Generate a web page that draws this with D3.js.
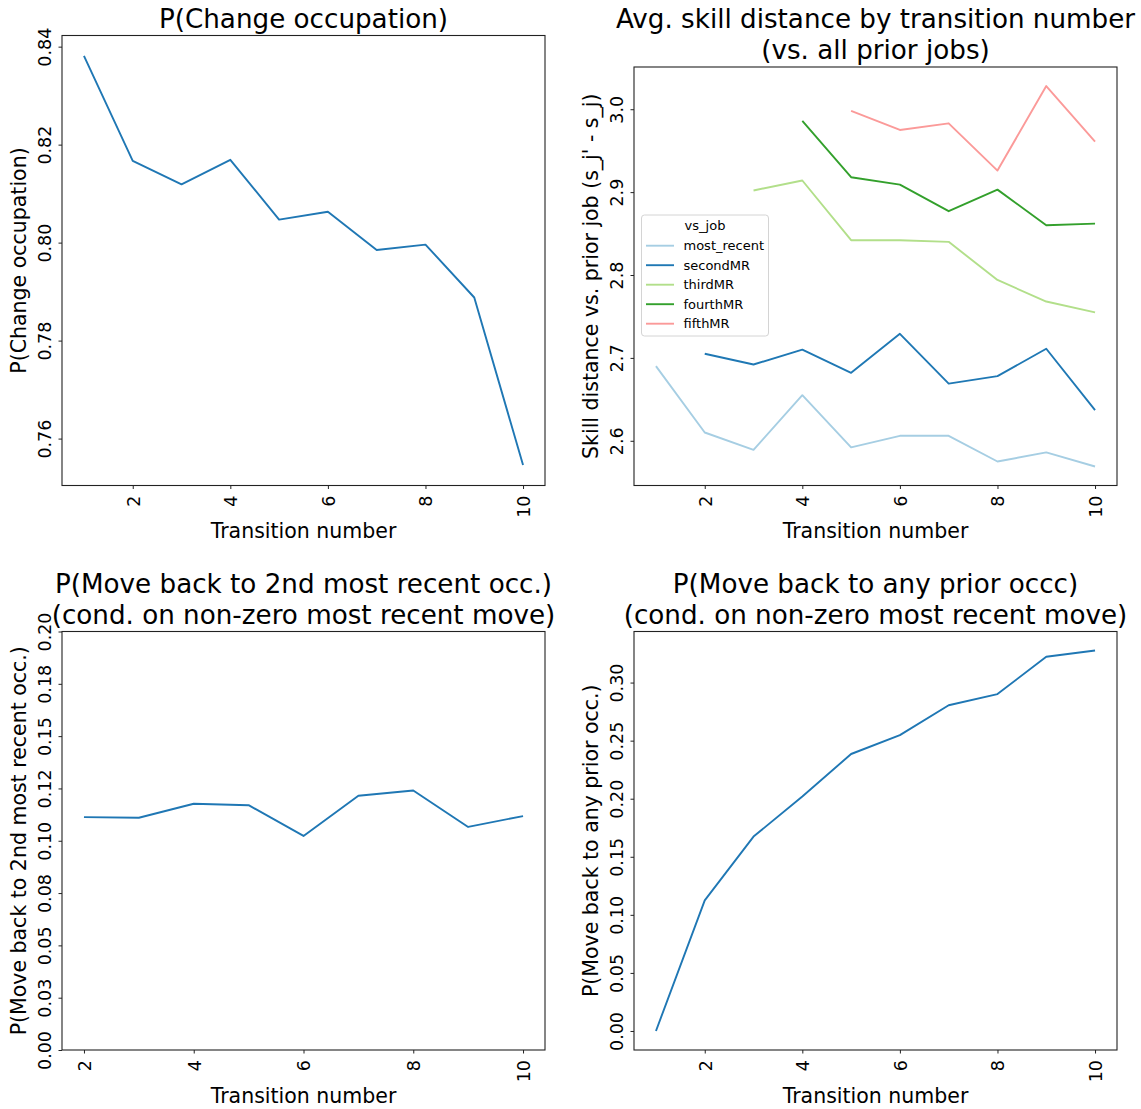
<!DOCTYPE html>
<meta charset="utf-8">
<style>
body { margin: 0; background: #fff; }
text { font-family: "DejaVu Sans", sans-serif; fill: #000; }
</style>
<body>
<script src="https://d3js.org/d3.v7.min.js"></script>
<script>

// data
var transitions = [1, 2, 3, 4, 5, 6, 7, 8, 9, 10];
var transitionsFrom2 = [2, 3, 4, 5, 6, 7, 8, 9, 10];
var xTicks = [2, 4, 6, 8, 10];

var pChange = [0.8381, 0.8167, 0.8119, 0.8169, 0.8047, 0.8063, 0.7985, 0.7996, 0.7888, 0.7546];

var vsJob = ["most_recent", "secondMR", "thirdMR", "fourthMR", "fifthMR"];
var vsJobColors = ["#a6cee3", "#1f78b4", "#b2df8a", "#33a02c", "#fb9a99"];
var mostRecent = [2.690, 2.610, 2.589, 2.655, 2.592, 2.606, 2.606, 2.575, 2.586, 2.569];
var secondMR   = [null, 2.705, 2.692, 2.710, 2.682, 2.729, 2.669, 2.678, 2.711, 2.637];
var thirdMR    = [null, null, 2.902, 2.914, 2.842, 2.842, 2.840, 2.794, 2.768, 2.755];
var fourthMR   = [null, null, null, 2.986, 2.918, 2.909, 2.877, 2.903, 2.860, 2.862];
var fifthMR    = [null, null, null, null, 2.998, 2.975, 2.983, 2.926, 3.028, 2.961];

var pBack2nd = [0.1113, 0.1110, 0.1177, 0.1170, 0.1023, 0.1215, 0.1240, 0.1066, 0.1118];
var pBackAny = [0.0000, 0.1125, 0.1674, 0.2019, 0.2385, 0.2547, 0.2805, 0.2901, 0.3222, 0.3276];

var ticks1 = [0.76, 0.78, 0.80, 0.82, 0.84];
var ticks2 = [2.6, 2.7, 2.8, 2.9, 3.0];
var ticks3 = [0, 0.025, 0.05, 0.075, 0.1, 0.125, 0.15, 0.175, 0.2];
var ticks3Labels = ["0.00", "0.03", "0.05", "0.08", "0.10", "0.12", "0.15", "0.18", "0.20"];
var ticks4 = [0, 0.05, 0.1, 0.15, 0.2, 0.25, 0.3];

var svg = d3.select("body").append("svg")
    .attr("width", 1141)
    .attr("height", 1109);

function pad(ext, f) {
  var r = ext[1] - ext[0];
  return [ext[0] - r * f, ext[1] + r * f];
}

// one subplot: frame, ticks, labels, title; returns the scales
function panel(c) {
  var x = d3.scaleLinear().domain(c.xDomain).range([c.left, c.right]);
  var y = d3.scaleLinear().domain(c.yDomain).range([c.bottom, c.top]);
  var g = svg.append("g");

  var xa = g.append("g")
      .attr("transform", "translate(0," + c.bottom + ")")
      .call(d3.axisBottom(x).tickValues(xTicks).tickSize(3.5).tickFormat(d3.format("d")));
  xa.select(".domain").remove();
  xa.selectAll("line").attr("stroke", "#222").attr("stroke-width", 1);
  xa.selectAll("text")
      .attr("transform", "rotate(-90)")
      .attr("text-anchor", "end")
      .attr("x", -10).attr("y", 0).attr("dy", "0.36em")
      .attr("font-size", "17.5px").attr("font-family", "DejaVu Sans").attr("fill", "#000");

  var ya = g.append("g")
      .attr("transform", "translate(" + c.left + ",0)")
      .call(d3.axisLeft(y).tickValues(c.yTicks).tickSize(3.5).tickFormat(c.yFormat));
  ya.select(".domain").remove();
  ya.selectAll("line").attr("stroke", "#222").attr("stroke-width", 1);
  ya.selectAll("text")
      .attr("transform", "rotate(-90)")
      .attr("text-anchor", "middle")
      .attr("x", 0).attr("y", -11).attr("dy", 0)
      .attr("font-size", "17.5px").attr("font-family", "DejaVu Sans").attr("fill", "#000");

  g.append("rect")
      .attr("x", c.left).attr("y", c.top)
      .attr("width", c.right - c.left).attr("height", c.bottom - c.top)
      .attr("fill", "none").attr("stroke", "#222").attr("stroke-width", 1.1);

  g.append("text")
      .attr("x", (c.left + c.right) / 2).attr("y", c.bottom + 52.8)
      .attr("text-anchor", "middle").attr("font-size", "20.5px")
      .text("Transition number");

  g.append("text")
      .attr("transform", "translate(" + (c.left - 36) + "," + ((c.top + c.bottom) / 2) + ") rotate(-90)")
      .attr("text-anchor", "middle").attr("font-size", "20.5px")
      .text(c.ylabel);

  var n = c.title.length;
  c.title.forEach(function(t, i) {
    g.append("text")
        .attr("x", (c.left + c.right) / 2)
        .attr("y", c.top - 8 - (n - 1 - i) * 30.8)
        .attr("text-anchor", "middle").attr("font-size", "26.2px")
        .text(t);
  });
  return {x: x, y: y, g: g};
}

function drawLine(p, xs, ys, color) {
  var pts = xs.map(function(d, i) { return [d, ys[i]]; });
  p.g.append("path")
      .datum(pts)
      .attr("fill", "none")
      .attr("stroke", color)
      .attr("stroke-width", 1.9)
      .attr("stroke-linejoin", "round")
      .attr("d", d3.line()
          .defined(function(d) { return d[1] != null; })
          .x(function(d) { return p.x(d[0]); })
          .y(function(d) { return p.y(d[1]); }));
}

var f2 = d3.format(".2f");

// top left
var p1 = panel({
  left: 62, right: 545, top: 35.5, bottom: 485.5,
  xDomain: [0.55, 10.45], yDomain: pad(d3.extent(pChange), 0.05),
  yTicks: ticks1, yFormat: f2,
  ylabel: "P(Change occupation)", title: ["P(Change occupation)"]
});
drawLine(p1, transitions, pChange, "#1f77b4");

// top right
var allSkill = mostRecent.concat(secondMR, thirdMR, fourthMR, fifthMR).filter(function(d) { return d != null; });
var p2 = panel({
  left: 634, right: 1117, top: 67, bottom: 485.5,
  xDomain: [0.55, 10.45], yDomain: pad(d3.extent(allSkill), 0.05),
  yTicks: ticks2, yFormat: d3.format(".1f"),
  ylabel: "Skill distance vs. prior job (s_j' - s_j)",
  title: ["Avg. skill distance by transition number", "(vs. all prior jobs)"]
});
[mostRecent, secondMR, thirdMR, fourthMR, fifthMR].forEach(function(s, i) {
  drawLine(p2, transitions, s, vsJobColors[i]);
});

// legend
var lg = p2.g.append("g").attr("transform", "translate(641.5,215)");
lg.append("rect")
    .attr("width", 127).attr("height", 121).attr("rx", 3)
    .attr("fill", "#fff").attr("fill-opacity", 0.8)
    .attr("stroke", "#d4d4d4").attr("stroke-width", 1);
lg.append("text")
    .attr("x", 63.5).attr("y", 15).attr("text-anchor", "middle")
    .attr("font-size", "13px").attr("fill", "#222").text("vs_job");
vsJob.forEach(function(name, i) {
  var yy = 30.7 + i * 19.5;
  lg.append("line")
      .attr("x1", 4.5).attr("x2", 32.5).attr("y1", yy).attr("y2", yy)
      .attr("stroke", vsJobColors[i]).attr("stroke-width", 1.9);
  lg.append("text")
      .attr("x", 42).attr("y", yy + 4.6)
      .attr("font-size", "13px").attr("fill", "#222").text(name);
});

// bottom left
var p3 = panel({
  left: 62, right: 545, top: 631.5, bottom: 1050,
  xDomain: [1.6, 10.4], yDomain: [0, 0.2],
  yTicks: ticks3, yFormat: function(d, i) { return ticks3Labels[i]; },
  ylabel: "P(Move back to 2nd most recent occ.)",
  title: ["P(Move back to 2nd most recent occ.)", "(cond. on non-zero most recent move)"]
});
drawLine(p3, transitionsFrom2, pBack2nd, "#1f77b4");

// bottom right
var p4 = panel({
  left: 634, right: 1117, top: 631.5, bottom: 1050,
  xDomain: [0.55, 10.45], yDomain: pad(d3.extent(pBackAny), 0.05),
  yTicks: ticks4, yFormat: f2,
  ylabel: "P(Move back to any prior occ.)",
  title: ["P(Move back to any prior occc)", "(cond. on non-zero most recent move)"]
});
drawLine(p4, transitions, pBackAny, "#1f77b4");

</script>
</body>
